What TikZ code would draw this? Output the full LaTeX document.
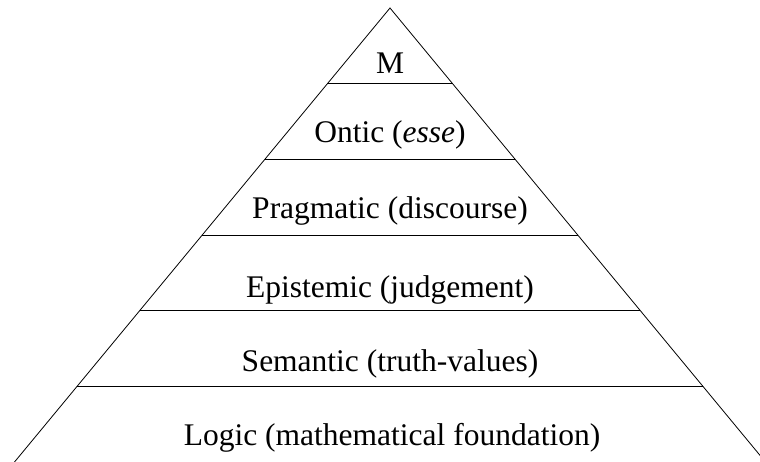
\documentclass[tikz,border=0pt]{standalone}
\usepackage{fontspec}
\setmainfont{Liberation Serif}
\usetikzlibrary{calc}
\tikzset{etage/.style={anchor=base,inner sep=0pt,font=\fontsize{31.5}{38}\selectfont}}
\begin{document}
\begin{tikzpicture}[x=1pt,y=-1pt,line width=0.8pt]

\useasboundingbox (0,0) rectangle (760,461) ;

\coordinate (sommet) at (390,8) ;
\coordinate (bas_g) at (14.5,462) ;
\coordinate (bas_d) at (765.5,462) ;

% cotes de la pyramide

\draw (bas_g) -- (sommet) -- (bas_d) ;

% separations des etages

\foreach \k in {1,...,5}
  \draw ($(sommet)!\k/6!(bas_g)$) -- ($(sommet)!\k/6!(bas_d)$) ;

% etiquettes

\node[etage] (m) at (390,73) {M} ;
\node[etage] (ontic) at (390,142) {Ontic (\textit{esse})} ;
\node[etage] (pragmatic) at (390,218) {Pragmatic (discourse)} ;
\node[etage] (epistemic) at (390,297) {Epistemic (judgement)} ;
\node[etage] (semantic) at (390,371) {Semantic (truth-values)} ;
\node[etage] (logic) at (392,445) {Logic (mathematical foundation)} ;

\end{tikzpicture}
\end{document}
